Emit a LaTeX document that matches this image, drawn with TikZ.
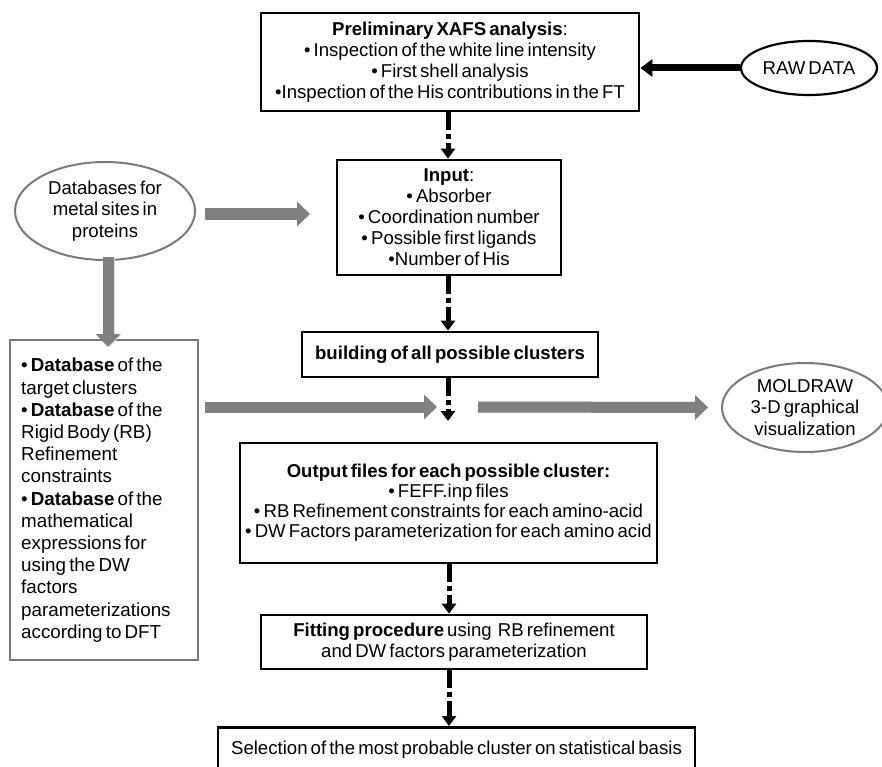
\documentclass[tikz,border=0pt]{standalone}
\usepackage{fontspec}
\setmainfont{Liberation Sans}[WordSpace=0.6]
\usetikzlibrary{arrows.meta,shapes.geometric}
\definecolor{arrowgray}{HTML}{808080}
\definecolor{edgegray}{HTML}{7A7A7A}
\definecolor{shadowgray}{HTML}{DADADA}
\begin{document}
\begin{tikzpicture}[x=1pt,y=-1pt,
  box/.style={draw=black,line width=2.7pt,inner sep=0pt,align=center,font=\fontsize{18.6}{21}\selectfont},
  ovalblack/.style={draw=black,line width=2.2pt,ellipse,inner sep=0pt,align=center,font=\fontsize{18.6}{21}\selectfont},
  ovalgray/.style={draw=edgegray,line width=2pt,ellipse,inner sep=0pt,align=center,font=\fontsize{18.6}{21.5}\selectfont},
  dasharrow/.style={line width=5pt,dash pattern=on 18pt off 4pt on 5pt off 4pt on 200pt off 4pt,-{Triangle[width=14pt,length=10pt]}},
  grayarrow/.style={line width=11pt,draw=arrowgray,-{Triangle[width=24pt,length=13pt]}},
  grayshadow/.style={line width=11pt,draw=shadowgray,-{Triangle[width=24pt,length=13pt]}},
  blackarrow/.style={line width=7pt,draw=black,-{Triangle[width=17pt,length=12pt]}},
]
\useasboundingbox (0,0) rectangle (882,767);
\clip (0,0) rectangle (882,767);
\fill[white] (0,0) rectangle (882,767);

% main column
\node[box,minimum width=378,minimum height=98] (prelim) at (450,62)
  {\textbf{Preliminary XAFS analysis}:\\
   • Inspection of the white line intensity\\
   • First shell analysis\\
   •Inspection of the His contributions in the FT};
\node[box,minimum width=224,minimum height=115] (input) at (449,217.5)
  {\textbf{Input}:\\ • Absorber\\ • Coordination number\\ • Possible first ligands\\ •Number of His};
\node[box,minimum width=296,minimum height=45] (build) at (450,354.5)
  {\textbf{building of all possible clusters}};
\node[box,minimum width=417,minimum height=120,font=\fontsize{18.6}{20}\selectfont] (output) at (448.5,503)
  {\textbf{Output files for each possible cluster:}\\
   • FEFF.inp files\\
   • RB Refinement constraints for each amino-acid\\
   • DW Factors parameterization for each amino acid};
\node[box,minimum width=386,minimum height=54] (fit) at (454,642)
  {\textbf{Fitting procedure} using\ \ RB refinement\\ and DW factors parameterization};
\node[box,minimum width=477,minimum height=70,anchor=north] (select) at (456.5,726) {};
\node[font=\fontsize{18.6}{21}\selectfont] (seltext) at (456.5,750)
  {Selection of the most probable cluster on statistical basis};

% side shapes
\node[ovalblack,minimum width=136,minimum height=54] (raw) at (809,68) {RAW DATA};
\node[ovalgray,minimum width=180,minimum height=98] (db) at (105,211)
  {Databases for\\ metal sites in\\ proteins};
\node[ovalgray,minimum width=166,minimum height=89] (mol) at (805,407.5)
  {MOLDRAW\\ 3-D graphical\\ visualization};
\node[draw=edgegray,line width=2pt,minimum width=188,minimum height=320,inner sep=0pt] (dbbox) at (104,500) {};
\node[anchor=north west,align=left,inner sep=0pt,font=\fontsize{18.8}{22.2}\selectfont] (dbtext) at (21,358)
  {• \textbf{Database} of the\\ target clusters\\ • \textbf{Database} of the\\ Rigid Body (RB)\\ Refinement\\ constraints\\
   • \textbf{Database} of the\\ mathematical\\ expressions for\\ using the DW\\ factors\\ parameterizations\\ according to DFT};

% free-end coordinates
\coordinate (midtip) at (448,421);
\coordinate (lefttip) at (437,407);
\coordinate (rightstart) at (478,407);
\coordinate (dbout) at (205,214);
\coordinate (inputin) at (310,214);

% dashed black arrows
\draw[dasharrow] (prelim.south -| 448,0) -- (input.north -| 448,0);
\draw[dasharrow] (input.south -| 448,0) -- (build.north -| 448,0);
\draw[dasharrow] (build.south -| 448,0) -- (midtip);
\draw[dasharrow] (output.south -| 449,0) -- (fit.north -| 449,0);
\draw[dasharrow] (fit.south -| 449,0) -- (select.north -| 449,0);

% black arrow from raw data
\draw[blackarrow] (raw.west) -- (prelim.east |- raw.west);

% gray arrows with soft shadow
\begin{scope}[shift={(1.5,2.5)}]
\draw[grayshadow] (dbout) -- (inputin);
\draw[grayshadow] ([yshift=4pt]db.south -| 108,0) -- ([yshift=-8pt]dbbox.north -| 108,0);
\draw[grayshadow] ([xshift=6pt]dbbox.east |- lefttip) -- (lefttip);
\draw[grayshadow] (rightstart) -- ([xshift=-13pt]mol.west);
\end{scope}
\draw[grayarrow] (dbout) -- (inputin);
\draw[grayarrow] ([yshift=4pt]db.south -| 108,0) -- ([yshift=-8pt]dbbox.north -| 108,0);
\draw[grayarrow] ([xshift=6pt]dbbox.east |- lefttip) -- (lefttip);
\draw[grayarrow] (rightstart) -- ([xshift=-13pt]mol.west);
\end{tikzpicture}
\end{document}
